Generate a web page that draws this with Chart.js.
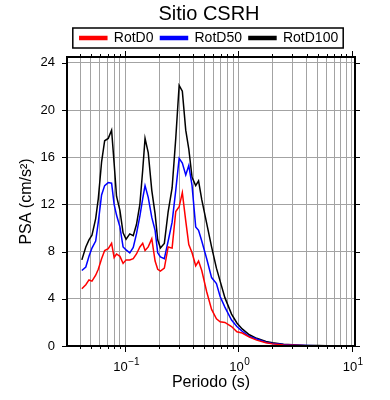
<!DOCTYPE html>
<html>
<head>
<meta charset="utf-8">
<script src="https://cdn.jsdelivr.net/npm/chart.js@4"></script>
<style>
  html, body { margin: 0; padding: 0; background: #fff; }
</style>
</head>
<body>
<canvas id="chartPSA" width="390" height="400"></canvas>
<script>

// periodos (s) y espectros
const periodos = [0.0415, 0.045, 0.048, 0.051, 0.055, 0.058, 0.062, 0.066, 0.071, 0.076,
    0.080, 0.084, 0.090, 0.096, 0.102, 0.110, 0.118, 0.126, 0.135, 0.143,
    0.150, 0.160, 0.172, 0.184, 0.194, 0.205, 0.222, 0.240, 0.260, 0.280,
    0.300, 0.320, 0.343, 0.365, 0.390, 0.420, 0.445, 0.475, 0.525, 0.580,
    0.640, 0.690, 0.760, 0.870, 0.970, 1.08, 1.25, 1.45, 1.75, 2.0,
    2.5, 3.0, 3.5, 4.0, 5.0, 6.0, 7.0, 8.0, 9.0, 10.0];

const rotD0 = [4.85, 5.2, 5.6, 5.5, 6.0, 6.5, 7.4, 8.1, 8.25, 8.7,
    7.5, 7.8, 7.6, 7.0, 7.3, 7.3, 7.4, 7.8, 8.4, 8.7,
    8.1, 8.4, 9.1, 7.2, 6.5, 6.35, 6.6, 8.4, 8.3, 11.4,
    11.8, 13.0, 10.6, 8.6, 7.9, 6.8, 7.2, 6.4, 4.6, 3.1,
    2.3, 2.05, 2.0, 1.65, 1.2, 1.1, 0.75, 0.5, 0.28, 0.18,
    0.09, 0.06, 0.04, 0.03, 0.02, 0.02, 0.01, 0.01, 0.01, 0.01];

const rotD50 = [6.4, 6.7, 7.6, 8.3, 8.9, 10.5, 12.8, 13.6, 13.85, 13.8,
    12.0, 11.1, 10.1, 8.4, 8.15, 7.9, 8.35, 9.5, 11.0, 12.5,
    13.6, 12.6, 10.9, 9.8, 7.9, 7.55, 7.4, 8.9, 10.5, 13.2,
    15.9, 15.5, 14.5, 15.3, 13.6, 10.1, 9.8, 8.9, 7.4, 5.8,
    5.3, 4.2, 3.3, 2.2, 1.65, 1.25, 0.8, 0.6, 0.32, 0.22,
    0.12, 0.08, 0.06, 0.05, 0.03, 0.02, 0.02, 0.01, 0.01, 0.01];

const rotD100 = [7.3, 8.4, 9.0, 9.4, 10.8, 12.5, 15.6, 17.4, 17.6, 18.3,
    15.5, 12.7, 11.5, 9.6, 9.05, 9.5, 9.35, 10.3, 12.0, 14.9,
    17.6, 16.4, 13.2, 11.2, 9.0, 8.3, 8.7, 11.4, 13.4, 17.6,
    22.1, 21.6, 18.3, 16.7, 14.3, 13.6, 14.0, 12.4, 10.4, 8.4,
    6.6, 5.5, 4.1, 2.7, 1.95, 1.45, 0.95, 0.65, 0.38, 0.28,
    0.15, 0.1, 0.07, 0.05, 0.04, 0.03, 0.02, 0.02, 0.02, 0.01];

// ticks / lineas de grilla
const xTicks = [0.04, 0.05, 0.06, 0.07, 0.08, 0.09,
    0.1, 0.2, 0.3, 0.4, 0.5, 0.6, 0.7, 0.8, 0.9,
    1, 2, 3, 4, 5, 6, 7, 8, 9, 10];
const xMajors = [0.1, 1, 10];
const xExponentes = ['\u22121', '0', '1'];
const yTicks = [0, 4, 8, 12, 16, 20, 24];

const font = "'Liberation Sans', Arial, sans-serif";

// marco negro con ticks por fuera, etiquetas 10^n y caja de la leyenda
const marco = {
    id: 'marco',
    afterDraw(chart) {
        const ctx = chart.ctx;
        const a = chart.chartArea;
        const x = chart.scales.x;
        const y = chart.scales.y;
        ctx.save();
        ctx.strokeStyle = '#000';
        ctx.lineWidth = 1;
        ctx.beginPath();
        xTicks.forEach((v) => {
            let px = Math.round(x.getPixelForValue(v)) + 0.5;
            let len = xMajors.includes(v) ? 6 : 3;
            ctx.moveTo(px, a.bottom);
            ctx.lineTo(px, a.bottom + len);
            ctx.moveTo(px, a.top);
            ctx.lineTo(px, a.top - len);
        });
        yTicks.forEach((v) => {
            let py = Math.round(y.getPixelForValue(v)) + 0.5;
            ctx.moveTo(a.left - 5, py);
            ctx.lineTo(a.left, py);
            ctx.moveTo(a.right, py);
            ctx.lineTo(a.right + 5, py);
        });
        ctx.stroke();

        ctx.lineWidth = 2;
        ctx.strokeRect(a.left, a.top, a.right - a.left, a.bottom - a.top);

        // etiquetas 10^n
        ctx.fillStyle = '#000';
        ctx.textBaseline = 'alphabetic';
        ctx.textAlign = 'left';
        xMajors.forEach((v, i) => {
            let px = x.getPixelForValue(v);
            ctx.font = '13px ' + font;
            let w1 = ctx.measureText('10').width;
            ctx.font = '10px ' + font;
            let w2 = ctx.measureText(xExponentes[i]).width;
            let x0 = px - (w1 + w2) / 2 + 1;
            let base = a.bottom + 25;
            ctx.font = '13px ' + font;
            ctx.fillText('10', x0, base);
            ctx.font = '10px ' + font;
            ctx.fillText(xExponentes[i], x0 + w1 + 0.5, base - 6);
        });

        let hb = chart.legend.legendHitBoxes;
        if (hb && hb.length) {
            let first = hb[0];
            let last = hb[hb.length - 1];
            let left = first.left - 7;
            let right = last.left + last.width + 5;
            let top = first.top - 3;
            let bottom = first.top + first.height + 3;
            ctx.lineWidth = 1.5;
            ctx.strokeRect(left, top, right - left, bottom - top);
        }
        ctx.restore();
    }
};

let ctx = document.querySelector('#chartPSA');

let grafico = new Chart(ctx, {
    type: 'line',
    data: {
        labels: periodos,
        datasets: [
            { label: 'RotD0', data: rotD0, borderColor: '#ff0000', backgroundColor: '#ff0000' },
            { label: 'RotD50', data: rotD50, borderColor: '#0000ff', backgroundColor: '#0000ff' },
            { label: 'RotD100', data: rotD100, borderColor: '#000000', backgroundColor: '#000000' }
        ]
    },
    options: {
        responsive: false,
        animation: false,
        devicePixelRatio: 1,
        layout: { padding: { left: 28, right: 0, top: 0, bottom: 0 } },
        elements: {
            point: { radius: 0 },
            line: { borderWidth: 1.5, tension: 0 }
        },
        scales: {
            x: {
                type: 'logarithmic',
                position: 'bottom',
                min: 0.0307,
                max: 10.7,
                afterBuildTicks: (s) => { s.ticks = xTicks.map((v) => ({ value: v })); },
                afterFit: (s) => { s.height = 54; },
                grid: { color: '#a3a3a3', lineWidth: 1, drawTicks: false },
                border: { display: false },
                ticks: {
                    autoSkip: false,
                    maxRotation: 0,
                    callback: () => ''
                },
                title: {
                    display: true,
                    text: 'Periodo (s)',
                    color: '#000',
                    font: { family: font, size: 16 },
                    padding: { top: 0, bottom: 8 }
                }
            },
            x2: {
                type: 'logarithmic',
                position: 'top',
                min: 0.0307,
                max: 10.7,
                afterFit: (s) => { s.height = 2; },
                grid: { display: false },
                border: { display: false },
                ticks: { display: false }
            },
            y: {
                position: 'left',
                min: 0,
                max: 24.5,
                afterBuildTicks: (s) => { s.ticks = yTicks.map((v) => ({ value: v })); },
                afterFit: (s) => { s.width = 39; },
                grid: { color: '#a3a3a3', lineWidth: 1, drawTicks: false },
                border: { display: false },
                ticks: {
                    padding: 12,
                    color: '#000',
                    font: { family: font, size: 13 }
                },
                title: {
                    display: true,
                    text: 'PSA (cm/s\u00B2)',
                    color: '#000',
                    font: { family: font, size: 16 },
                    padding: { top: -10.6, bottom: 0 }
                }
            },
            y2: {
                position: 'right',
                min: 0,
                max: 24.5,
                afterFit: (s) => { s.width = 35; },
                grid: { display: false },
                border: { display: false },
                ticks: { display: false }
            }
        },
        plugins: {
            title: {
                display: true,
                text: 'Sitio CSRH',
                color: '#000',
                font: { family: font, size: 20, weight: 'normal', lineHeight: 1 },
                padding: { top: 4, bottom: 0 }
            },
            legend: {
                display: true,
                position: 'top',
                labels: {
                    color: '#000',
                    font: { family: font, size: 14 },
                    boxWidth: 27,
                    boxHeight: 3,
                    padding: 7
                }
            },
            tooltip: { enabled: false }
        }
    },
    plugins: [marco]
});

</script>
</body>
</html>
